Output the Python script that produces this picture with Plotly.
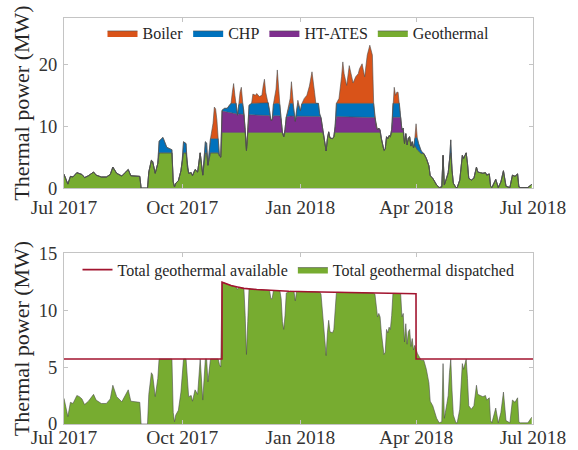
import numpy as np
import pandas as pd
import plotly.graph_objects as go

# ---- data -------------------------------------------------------------
season_start = pd.Timestamp("2017-07-01")

# days since 1 Jul 2017
day = [0, 3, 5, 7, 10, 12, 14, 16, 19, 23, 25, 29, 33, 36, 38, 41, 45, 47, 50, 52,
       55, 59, 60, 65, 66, 68, 69, 71, 73, 74, 77, 80, 83, 84, 85, 86, 87, 89, 91, 92,
       93, 95, 96, 97, 99, 100, 102, 104, 106, 108, 110, 111, 112, 114, 116, 117, 118, 119, 120, 121,
       122, 123, 125, 127, 129, 130, 131, 132, 133, 134, 135, 136, 137, 138, 139, 140, 141, 142, 143, 144,
       146, 147, 149, 150, 152, 154, 155, 156, 157, 159, 160, 161, 162, 163, 165, 166, 167, 168, 169, 170,
       171, 172, 173, 175, 176, 177, 178, 179, 180, 181, 182, 184, 185, 187, 189, 191, 193, 195, 196, 198,
       199, 200, 201, 202, 203, 204, 205, 206, 207, 209, 210, 211, 212, 214, 216, 217, 218, 219, 220, 222,
       224, 225, 227, 229, 230, 232, 234, 236, 238, 240, 241, 242, 243, 244, 245, 246, 247, 249, 250, 251,
       252, 253, 254, 255, 256, 257, 258, 259, 260, 261, 262, 263, 264, 265, 266, 267, 268, 269, 270, 271,
       272, 273, 274, 275, 276, 278, 280, 282, 284, 285, 287, 290, 292, 294, 295, 296, 298, 299, 300, 301,
       302, 303, 305, 306, 308, 310, 311, 313, 314, 315, 317, 319, 321, 322, 324, 326, 328, 329, 331, 332,
       333, 334, 336, 338, 340, 342, 344, 347, 349, 351, 353, 354, 355, 361, 363, 364]

geothermal = [2.25, 0.65, 1.9, 1.8, 2.5, 2.4, 2.2, 1.7, 2.0, 2.6, 2.1, 1.8, 1.8, 2.2, 3.4, 2.4, 1.95, 2.4, 3.0, 2.0,
              1.95, 1.9, 0.0, 0.0, 2.6, 4.5, 4.3, 2.4, 4.0, 5.7, 5.7, 5.7, 5.7, 5.7, 1.0, 0.2, 0.8, 1.2, 2.8, 4.5,
              5.7, 5.7, 3.5, 2.4, 2.5, 2.0, 3.0, 2.6, 5.7, 2.1, 5.7, 5.7, 3.7, 5.7, 5.7, 5.7, 5.7, 5.7, 5.7, 5.2,
              5.0, 9, 9, 9, 9, 9, 9, 9, 9, 9, 9, 9, 9, 9, 9, 9, 9, 6.1, 9.0, 9,
              9, 9, 9, 9, 9, 9, 9, 9, 9, 9, 9, 9, 9, 9, 9, 9, 9, 9, 9, 9.0,
              8.3, 9, 9, 9, 9, 9, 9, 9, 9, 9, 9, 9, 9, 9, 9, 9, 9, 9, 9, 9,
              9, 9, 9, 8.5, 7.0, 6.0, 8.0, 9.0, 8.1, 8.0, 8.3, 9, 9, 9, 9, 9, 9, 9, 9, 9,
              9, 9, 9, 9, 9, 9, 9, 9, 9, 9, 9, 9, 9, 9, 9, 9, 8.0, 6.1, 6.3, 8.3,
              8.0, 8.5, 8.3, 9, 9, 9, 9, 9, 9, 9, 9, 9, 9, 7.2, 8.8, 7.0, 8.1, 8.3, 6.8, 7.5,
              6.5, 6.9, 6.5, 6.2, 6.0, 5.6, 5.6, 4.8, 3.6, 2.0, 1.6, 0.5, 0.1, 0.2, 5.3, 0.5, 1.8, 2.5, 4.5, 5.7,
              2.9, 0.8, 0.1, 0.1, 1.3, 5.3, 4.8, 5.7, 4.0, 1.6, 1.3, 1.6, 3.4, 2.6, 2.5, 2.4, 2.5, 2.1, 2.3, 0.3,
              0.1, 0.5, 1.4, 0.1, 1.0, 2.8, 0.3, 0.1, 2.1, 1.9, 2.3, 0.2, 0.1, 0.1, 0.5, 0.6]

ht_ates = [0] * 61 + [
    3.45, 3.35, 3.25, 3.18, 3.15, 3.1, 3.08, 3.05, 3.02, 2.8, 3.0, 2.98, 2.96, 2.94, 2.9, 0.5, 0, 0, 2.87,
    2.84, 2.83, 2.81, 2.8, 2.79, 2.78, 2.77, 2.76, 2.75, 2.73, 2.72, 2.0, 2.0, 2.71, 2.7, 2.7, 2.69, 2.69, 2.0, 0,
    0, 0.5, 2.5, 2.65, 2.65, 2.64, 2.64, 2.63, 1.8, 2.63, 2.62, 2.62, 2.61, 2.61, 2.6, 2.6, 2.6, 2.59, 2.59, 2.58,
    2.58, 2.4, 1.0, 0, 0, 0, 0, 0.1, 0, 0, 0, 1.0, 2.55, 2.55, 2.54, 2.54, 2.54, 2.53, 2.53, 2.53,
    2.52, 2.52, 2.52, 2.51, 2.51, 2.5, 2.5, 2.5, 2.49, 2.49, 2.48, 2.4, 1.0, 0.4, 0.7, 0.4, 0, 0, 0, 0,
    0, 0, 0, 0.5, 2.46, 2.46, 2.46, 2.46, 2.45, 2.45, 2.45, 0.4, 0.7, 0, 0, 0, 0, 0, 0, 0,
] + [0] * 56

chp = ([0] * 29 + [1.9, 2.5, 0.9, 0.6, 0.5, 0, 0, 0, 0, 0, 0,
                  1.8, 1.5, 0, 0, 0, 0, 0, 0, 0, 0, 1.8, 1.6, 0, 2.3, 2.3, 2.3, 2.3, 2.3, 2.3, 0,
                  0, 0.15, 0.55, 0.65, 1.32, 1.55, 1.6, 1.62, 1.65, 1.68, 0, 1.5, 1.72, 1.74, 1.76, 0.6, 0, 0, 0, 1.53,
                  1.86, 1.87, 1.89, 1.9, 1.91, 1.92, 1.93, 1.94, 1.95, 2.07, 0.78, 0, 0, 1.89, 2.0, 2.0, 2.01, 1.81, 0, 0,
                  0, 0, 0, 1.55, 2.05, 2.06, 2.06, 0.87, 0, 0.87, 2.08, 0.88, 1.99, 2.09, 2.1, 2.1, 2.1, 2.11, 2.11, 2.12,
                  0.42, 0, 0, 0, 0, 0, 0, 0, 0, 0, 0, 0, 2.15, 2.15, 2.16, 2.16, 2.16, 2.17, 2.17, 2.17,
                  2.18, 2.18, 2.18, 2.19, 2.19, 2.2, 2.2, 2.2, 2.21, 2.21, 2.22, 0, 0, 0, 0, 0, 0, 0, 0, 0,
                  0, 0, 0, 0, 2.24, 2.24, 2.24, 2.24, 2.25, 2.25, 0, 0, 0, 0, 0, 0, 0, 0, 0, 0,
                  0, 1.1, 1.8, 1.8, 1.2, 0.4, 0, 0, 0, 0, 0, 0, 0, 0, 0, 0, 0, 0, 0, 2.1]
       + [0] * 36)

boiler = ([0] * 54 + [2.5, 5.1, 4.8, 3.0, 0, 0,
                     0, 0, 0, 0, 0, 0, 1.8, 3.2, 1.3, 0, 0, 0, 1.8, 2.6, 0.2, 0, 0, 0, 0, 0,
                     0, 1.5, 1.3, 1.6, 1.1, 1.3, 2.8, 3.9, 1.8, 0, 0, 0, 0, 0, 2.3, 5.4, 1.8, 0, 0, 0,
                     0, 0, 0, 0, 0.8, 3.5, 0.8, 0, 0, 0, 0.5, 0, 0, 0.8, 1.3, 2.8, 5.1, 1.8, 0, 0,
                     0, 0, 0, 0, 0, 0, 0, 0, 0, 0, 0, 0, 0, 0.8, 4.3, 6.7, 4.8, 3.7, 2.9, 6.1,
                     3.8, 3.3, 4.3, 4.8, 5.6, 6.4, 4.3, 7.8, 9.4, 7.8, 0, 0, 0, 0, 0, 0, 0, 0, 0, 0,
                     0, 0, 0, 0, 0, 2.6, 1.3, 1.8, 1.8, 0, 0, 0, 0, 0, 0, 0, 0, 0, 0, 0,
                     0, 0, 2.1]
          + [0] * 43)

# geothermal heat available to the network (MW)
avail_day = [0, 122.95, 123, 126, 130, 135, 140, 150, 160, 175, 190, 210, 230, 250, 273.95, 274, 365]
avail_mw = [5.7, 5.7, 12.45, 12.3, 12.15, 12.02, 11.9, 11.8, 11.72, 11.65, 11.6, 11.55, 11.5, 11.47, 11.43, 5.7, 5.7]

tick_dates = ["2017-07-01", "2017-10-01", "2018-01-01", "2018-04-01", "2018-07-01"]
tick_text = ["Jul 2017", "Oct 2017", "Jan 2018", "Apr 2018", "Jul 2018"]

# ---- derived ----------------------------------------------------------
dates = season_start + pd.to_timedelta(day, unit="D")
avail_dates = season_start + pd.to_timedelta(avail_day, unit="D")
# geothermal heat dispatched = direct use + heat stored in the HT-ATES
dispatched = np.add(geothermal, ht_ates)

SERIF = "Liberation Serif"
EDGE = dict(width=0.6, color="#4d4d4d")

fig = go.Figure()

stack = [("Geothermal", geothermal, "#77AC30"),
         ("HT-ATES", ht_ates, "#7E2F8E"),
         ("CHP", chp, "#0072BD"),
         ("Boiler", boiler, "#D95319")]
for name, vals, col in stack:
    fig.add_trace(go.Scatter(
        x=dates, y=vals, name=name, mode="lines", stackgroup="mix",
        fillcolor=col, line=EDGE, xaxis="x", yaxis="y", legend="legend"))

fig.add_trace(go.Scatter(
    x=dates, y=dispatched, name="Total geothermal dispatched", mode="lines",
    fill="tozeroy", fillcolor="#77AC30", line=EDGE,
    xaxis="x2", yaxis="y2", legend="legend2"))
fig.add_trace(go.Scatter(
    x=avail_dates, y=avail_mw, name="Total geothermal available", mode="lines",
    line=dict(color="#A2142F", width=1.6),
    xaxis="x2", yaxis="y2", legend="legend2"))

axis_style = dict(showline=True, linecolor="#c4c4c4", linewidth=1, mirror="ticks",
                  ticks="inside", ticklen=4, tickcolor="#c4c4c4", showgrid=False,
                  zeroline=False, automargin=False,
                  tickfont=dict(family=SERIF, size=19.5, color="#333333"))
x_style = dict(axis_style, type="date", range=["2017-07-01", "2018-07-01"],
               tickvals=tick_dates, ticktext=tick_text)
y_tickfont = dict(family=SERIF, size=18.5, color="#333333")
y_title = dict(text="Thermal power (MW)", font=dict(family=SERIF, size=22, color="#262626"),
               standoff=3)

fig.update_layout(
    width=578, height=450,
    margin=dict(l=64, r=45, t=18, b=26, autoexpand=False),
    paper_bgcolor="white", plot_bgcolor="white",
    showlegend=True,
    xaxis=dict(x_style, anchor="y", domain=[0, 1], ticklabelstandoff=1),
    yaxis=dict(axis_style, domain=[0.581, 1], range=[0, 27.5], tickvals=[0, 10, 20],
               title=y_title, ticklabelstandoff=2, tickfont=y_tickfont),
    xaxis2=dict(x_style, anchor="y2", domain=[0, 1], ticklabelstandoff=-4),
    yaxis2=dict(axis_style, domain=[0, 0.421], range=[0, 15], tickvals=[0, 5, 10, 15],
                title=y_title, ticklabelstandoff=2, tickfont=y_tickfont),
    legend=dict(orientation="h", x=0.5, xanchor="center", y=0.963, yanchor="middle",
                traceorder="reversed", bgcolor="rgba(255,255,255,0)",
                font=dict(family=SERIF, size=16, color="#262626"),
                itemwidth=30, tracegroupgap=0),
    legend2=dict(orientation="h", x=0.5, xanchor="center", y=0.38, yanchor="middle",
                 traceorder="reversed", bgcolor="rgba(255,255,255,0)",
                 font=dict(family=SERIF, size=16, color="#262626"),
                 itemwidth=30),
)

fig.write_html("out.html")
